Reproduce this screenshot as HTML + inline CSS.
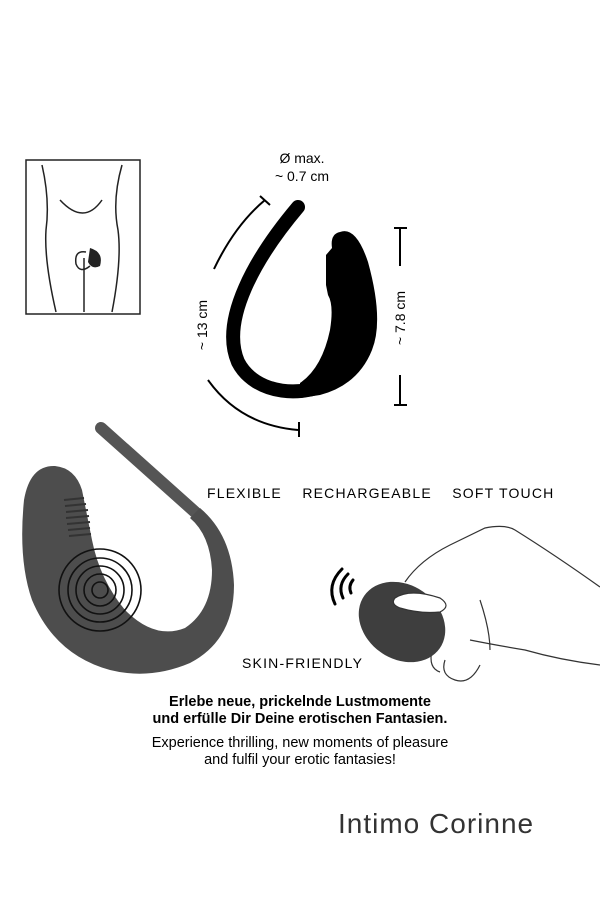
<!DOCTYPE html>
<html><head><meta charset="utf-8"><style>
body{margin:0;background:#fff;}
.w{position:relative;width:600px;height:900px;overflow:hidden;font-family:"Liberation Sans",sans-serif;}
</style></head><body><div class="w">
<svg width="600" height="900" viewBox="0 0 600 900" style="position:absolute;left:0;top:0">
<!-- body box -->
<rect x="26" y="160" width="114" height="154" fill="none" stroke="#222" stroke-width="1.5"/>
<g fill="none" stroke="#222" stroke-width="1.5">
<path d="M42 165 Q50 200 46 230 Q44 260 56 312"/>
<path d="M122 165 Q112 200 118 230 Q122 260 112 312"/>
<path d="M60 200 Q84 226 102 200"/>
<path d="M84 258 L84 312"/>
<path d="M86 252 Q74 250 76 264 Q80 274 90 266"/>
</g>
<path d="M90 248 Q104 252 100 266 Q92 270 88 262 Z" fill="#222"/>
<!-- black device -->
<path d="M298 207 C255 258 220 320 238 362 C255 395 305 400 338 378" fill="none" stroke="#000" stroke-width="14" stroke-linecap="round"/>
<path d="M340 232 Q356 226 368 262 Q384 320 372 350 Q358 385 320 395 L300 398 L300 383 Q322 368 330 330 Q334 305 328 295 L326 285 L326 255 L332 248 Q330 234 340 232 Z" fill="#000"/>
<!-- dimension marks -->
<g stroke="#000" stroke-width="2" fill="none">
<path d="M265 200 Q235 225 214 269"/>
<line x1="260" y1="196" x2="270" y2="205"/>
<path d="M208 380 Q240 425 298 430"/>
<line x1="299" y1="422" x2="299" y2="437"/>
<line x1="400" y1="228" x2="400" y2="266"/>
<line x1="394" y1="228" x2="407" y2="228"/>
<line x1="400" y1="375" x2="400" y2="405"/>
<line x1="394" y1="405" x2="407" y2="405"/>
</g>
<text x="302" y="163" font-size="14" text-anchor="middle" font-family="Liberation Sans">Ø max.</text>
<text x="302" y="181" font-size="14" text-anchor="middle" font-family="Liberation Sans">~ 0.7  cm</text>
<text transform="translate(207,325) rotate(-90)" font-size="14" text-anchor="middle">~ 13 cm</text>
<text transform="translate(405,318) rotate(-90)" font-size="14" text-anchor="middle">~ 7.8 cm</text>
<!-- grey device -->
<line x1="101" y1="428" x2="195" y2="512" stroke="#555" stroke-width="12" stroke-linecap="round"/>
<path d="M24 500 Q30 465 55 466 Q75 468 82 490 L92 540 Q100 580 125 610 Q155 640 185 628 Q212 610 212 570 Q210 535 190 518 L200 508 Q232 535 234 585 Q234 640 190 663 Q150 680 110 670 Q55 655 32 600 Q18 560 24 500 Z" fill="#4d4d4d"/>
<g stroke="#333" stroke-width="2">
<line x1="64" y1="500" x2="84" y2="498"/><line x1="65" y1="506" x2="86" y2="504"/><line x1="66" y1="512" x2="88" y2="510"/><line x1="66" y1="518" x2="89" y2="516"/><line x1="67" y1="524" x2="90" y2="522"/><line x1="68" y1="530" x2="90" y2="528"/><line x1="69" y1="536" x2="91" y2="534"/>
</g>
<g fill="none" stroke="#111" stroke-width="1.6">
<circle cx="100" cy="590" r="8"/><circle cx="100" cy="590" r="16"/><circle cx="100" cy="590" r="24"/><circle cx="100" cy="590" r="32"/><circle cx="100" cy="590" r="41"/>
</g>
<!-- hand -->
<g fill="none" stroke="#333" stroke-width="1.2">
<path d="M405 582 Q420 560 450 545 L485 528 Q505 524 515 530 Q555 555 600 587"/>
<path d="M600 665 Q560 660 525 650 Q495 645 470 640"/>
<path d="M445 660 Q440 675 455 680 Q470 685 480 665"/>
<path d="M432 650 Q428 668 440 672"/>
<path d="M480 600 Q490 630 490 650"/>
</g>
<ellipse cx="402" cy="622" rx="46" ry="37" transform="rotate(35 402 622)" fill="#3e3e3e"/>
<path d="M395 598 Q410 588 440 598 Q452 606 440 612 Q420 614 400 608 Q390 604 395 598 Z" fill="#fff" stroke="#333" stroke-width="1.2"/>
<g fill="none" stroke="#000" stroke-width="3" stroke-linecap="round">
<path d="M351 593 Q348 586 353 580"/><path d="M343 598 Q337 585 348 574"/><path d="M335 604 Q326 585 342 569"/>
</g>
</svg>
<div style="position:absolute;left:207px;top:485px;font-size:14px;letter-spacing:1.2px;white-space:pre">FLEXIBLE    RECHARGEABLE    SOFT TOUCH</div>
<div style="position:absolute;left:242px;top:655px;font-size:14px;letter-spacing:1.2px">SKIN-FRIENDLY</div>
<div style="position:absolute;left:0;width:600px;top:694px;text-align:center;font-size:14.5px;font-weight:bold;line-height:17px">Erlebe neue, prickelnde Lustmomente<br>und erfülle Dir Deine erotischen Fantasien.</div>
<div style="position:absolute;left:0;width:600px;top:735px;text-align:center;font-size:14.5px;line-height:17px">Experience thrilling, new moments of pleasure<br>and fulfil your erotic fantasies!</div>
<div style="position:absolute;left:338px;top:808px;font-size:28px;color:#333;letter-spacing:1px">Intimo Corinne</div>
</div></body></html>
